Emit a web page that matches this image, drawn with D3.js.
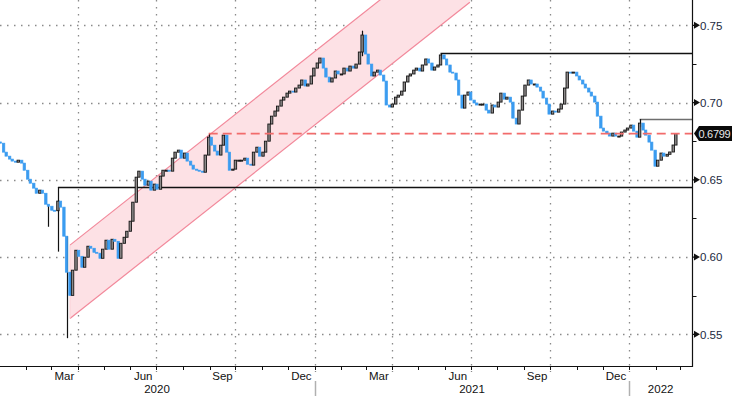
<!DOCTYPE html>
<html>
<head>
<meta charset="utf-8">
<script src="https://cdn.jsdelivr.net/npm/d3@7"></script>
<style>
  html, body { margin: 0; padding: 0; background: #fff; }
  svg { display: block; font-family: "Liberation Sans", Arial, sans-serif; }
</style>
</head>
<body>
<svg id="chart" width="732" height="396"></svg>
<script>
// closes, one per Monday / Thursday from 2019-12-30 to 2022-02-24
const closes = [
  0.6745,
  0.6737,0.6679,0.6653,0.6634,0.6621,0.6614,0.6627,0.6608,0.6562,0.6504,
  0.6478,0.6446,0.6413,0.6433,0.6413,0.6342,0.6329,0.6303,0.6300,0.6362,
  0.6323,0.6135,0.5902,0.5752,0.5915,0.6044,0.6005,0.5934,0.5999,0.6070,
  0.6057,0.6031,0.6025,0.5992,0.6051,0.6109,0.6051,0.6115,0.6102,0.5992,
  0.6089,0.6128,0.6167,0.6232,0.6355,0.6517,0.6556,0.6504,0.6465,0.6491,
  0.6433,0.6472,0.6439,0.6524,0.6562,
  0.6562,0.6556,0.6640,0.6679,0.6692,0.6640,0.6673,0.6621,0.6595,0.6569,
  0.6562,0.6556,0.6549,0.6660,0.6776,0.6724,0.6686,0.6660,0.6724,0.6789,
  0.6679,0.6562,0.6569,0.6627,0.6627,0.6627,0.6640,0.6601,0.6595,0.6679,
  0.6711,0.6653,0.6679,0.6750,0.6861,0.6912,0.6945,0.6977,0.7016,0.7035,
  0.7061,0.7074,0.7068,0.7094,0.7113,0.7146,0.7107,0.7120,0.7172,0.7223,
  0.7256,0.7288,0.7223,0.7165,0.7133,0.7159,0.7204,0.7185,0.7185,0.7223,
  0.7204,0.7236,0.7223,0.7249,0.7327,0.7437,0.7314,0.7249,0.7172,0.7197,
  0.7210,0.7178,0.7139,0.6984,0.6971,0.6990,0.7035,0.7048,0.7074,0.7133,
  0.7172,0.7185,0.7210,0.7223,0.7204,0.7243,0.7282,0.7256,0.7210,0.7230,
  0.7243,0.7308,0.7282,0.7243,0.7197,0.7191,0.7146,0.7048,0.6964,0.7048,
  0.7068,0.7016,0.6997,0.6984,0.6990,0.6990,0.6951,0.6932,0.6984,0.6971,
  0.7003,0.7061,0.7022,0.7035,0.7003,0.6899,0.6861,0.6951,0.7042,0.7113,
  0.7146,0.7120,0.7120,0.7100,0.7074,0.7029,0.6990,0.6925,0.6945,0.6938,
  0.6958,0.6990,0.7094,0.7197,0.7191,0.7197,0.7172,0.7146,0.7120,0.7094,
  0.7068,0.7042,0.7003,0.6912,0.6835,0.6815,0.6802,0.6783,0.6802,0.6783,
  0.6783,0.6809,0.6822,0.6835,0.6854,0.6815,0.6776,0.6867,0.6822,0.6789,
  0.6744,0.6692,0.6588,0.6627,0.6673,0.6653,
  0.6665,0.6680,0.6725,0.6799
];

// long wicks that stand out
const wickDates = ["2020-02-27", "2020-03-09", "2020-03-19", "2020-08-31", "2021-02-25", "2021-05-27", "2022-01-13"];
const wickHighs = [0.6330, 0.6451, 0.6135, 0.6799, 0.7465, 0.7319, 0.6893];
const wickLows  = [0.6196, 0.6035, 0.5475, 0.6750, 0.7300, 0.7280, 0.6840];

// rising channel
const channelDates = ["2020-03-23", "2021-06-30"];
const channelUpper = [0.6077, 0.8124];
const channelLower = [0.5602, 0.7649];

// horizontal levels
const levelDates  = ["2020-03-09", "2021-05-27", "2022-01-13"];
const levelValues = [0.6451, 0.7319, 0.6893];
const lastPrice = 0.6799;
const lastPriceFrom = "2020-08-31";

const yTicks = [0.55, 0.60, 0.65, 0.70, 0.75];
const yMinor = [0.575, 0.625, 0.675, 0.725];
const monthLabels = ["Mar", "Jun", "Sep", "Dec"];
const years = ["2020", "2021", "2022"];

const W = 732, H = 396;
const plotR = 692, plotB = 366;
const svg = d3.select('#chart');

const x = d3.scaleUtc()
    .domain([new Date("2020-01-01"), new Date("2022-03-15")])
    .range([-0.7, 692.2]);
const y = d3.scaleLinear()
    .domain([0.55, 0.75])
    .range([334.3, 25.3]);

const dates = d3.merge([
    d3.utcMonday.range(new Date("2019-12-30"), new Date("2022-02-25")),
    d3.utcThursday.range(new Date("2019-12-30"), new Date("2022-02-25"))
]).sort(d3.ascending);

const n = Math.min(dates.length, closes.length);
const candles = [];
for (let i = 1; i < n; i++) {
  candles.push({ date: dates[i], open: closes[i - 1], close: closes[i] });
}

svg.append('defs').append('clipPath').attr('id', 'plot')
  .append('rect').attr('x', 0).attr('y', 0).attr('width', plotR).attr('height', plotB);

const gridG = svg.append('g');
// horizontal dotted grid
gridG.selectAll('line.hg').data(yTicks).enter().append('line')
    .attr('x1', 0).attr('x2', plotR)
    .attr('y1', d => Math.round(y(d)) + 0.5).attr('y2', d => Math.round(y(d)) + 0.5)
    .attr('stroke', '#8a8a8a').attr('stroke-width', 1.3)
    .attr('stroke-dasharray', '1.5,5.5');

// quarter gridlines (start of Apr, Jul, Oct, Jan)
const quarters = d3.utcMonth.every(3).range(new Date("2020-03-15"), new Date("2022-03-01"))
    .filter(d => [0, 3, 6, 9].includes(d.getUTCMonth()));
gridG.selectAll('line.vg').data(quarters).enter().append('line')
    .attr('x1', d => Math.round(x(d)) + 0.5).attr('x2', d => Math.round(x(d)) + 0.5)
    .attr('y1', 0).attr('y2', plotB + 6)
    .attr('stroke', '#8a8a8a').attr('stroke-width', 1.3)
    .attr('stroke-dasharray', '1.5,5.5');

const plotG = svg.append('g').attr('clip-path', 'url(#plot)');

// channel
const cx0 = x(new Date(channelDates[0])), cx1 = x(new Date(channelDates[1]));
const band = [[cx0, y(channelUpper[0])], [cx1, y(channelUpper[1])], [cx1, y(channelLower[1])], [cx0, y(channelLower[0])]];
plotG.append('path')
    .attr('d', d3.line()(band) + 'Z')
    .attr('fill', '#fde1e5').attr('stroke', 'none');
[channelUpper, channelLower].forEach(arr => {
  plotG.append('line')
    .attr('x1', cx0).attr('y1', y(arr[0]))
    .attr('x2', cx1).attr('y2', y(arr[1]))
    .attr('stroke', '#f2889a').attr('stroke-width', 1.2);
});
plotG.append('line')
    .attr('x1', cx0).attr('x2', cx0)
    .attr('y1', y(channelUpper[0])).attr('y2', y(channelLower[0]))
    .attr('stroke', '#fbd0d6').attr('stroke-width', 1);

// black / grey horizontal levels
const levelStyle = [
  { color: '#111', w: 1.3 },
  { color: '#111', w: 1.3 },
  { color: '#6e6e6e', w: 1.6 }
];
levelValues.forEach((v, i) => {
  const lx = x(new Date(levelDates[i]));
  const ly = Math.round(y(v)) + 0.5;
  plotG.append('line')
    .attr('x1', lx).attr('x2', plotR)
    .attr('y1', ly).attr('y2', ly)
    .attr('stroke', levelStyle[i].color).attr('stroke-width', levelStyle[i].w);
});

// wicks
wickDates.forEach((ds, i) => {
  const wx = Math.round(x(new Date(ds))) + 0.5;
  plotG.append('line')
    .attr('x1', wx).attr('x2', wx)
    .attr('y1', y(wickHighs[i])).attr('y2', y(wickLows[i]))
    .attr('stroke', '#111').attr('stroke-width', 1.2);
});

// candles
const cw = 2.4;
plotG.append('g').selectAll('rect').data(candles).enter().append('rect')
    .attr('x', d => x(d.date) - cw / 2)
    .attr('width', cw)
    .attr('y', d => y(Math.max(d.open, d.close)))
    .attr('height', d => Math.max(1, Math.abs(y(d.open) - y(d.close))))
    .attr('fill', d => d.close >= d.open ? '#8d8a8a' : '#3b9cf0')
    .attr('stroke', d => d.close >= d.open ? '#141414' : '#3b9cf0')
    .attr('stroke-width', d => d.close >= d.open ? 0.9 : 0.7);

// last price dashed line
const lpY = y(lastPrice);
plotG.append('line')
    .attr('x1', x(new Date(lastPriceFrom))).attr('x2', plotR)
    .attr('y1', lpY).attr('y2', lpY)
    .attr('stroke', '#f26b6b').attr('stroke-width', 1.8)
    .attr('stroke-dasharray', '9,5');

// axes frame
const axG = svg.append('g');
axG.append('line').attr('x1', plotR + 0.5).attr('x2', plotR + 0.5).attr('y1', 0).attr('y2', plotB + 1)
    .attr('stroke', '#111').attr('stroke-width', 1.2);
axG.append('line').attr('x1', 0).attr('x2', plotR + 1).attr('y1', plotB + 0.5).attr('y2', plotB + 0.5)
    .attr('stroke', '#111').attr('stroke-width', 1.2);

// right axis: arrow ticks and labels
yTicks.forEach(v => {
  const ty = y(v);
  axG.append('path')
    .attr('d', `M${plotR},${ty - 0.6}L${plotR + 2},${ty - 0.6}L${plotR + 2},${ty - 3.5}L${plotR + 8},${ty}L${plotR + 2},${ty + 3.5}L${plotR + 2},${ty + 0.6}L${plotR},${ty + 0.6}Z`)
    .attr('fill', '#111');
  axG.append('text')
    .attr('x', plotR + 8).attr('y', ty + 4.2)
    .attr('font-size', 11.5).attr('fill', '#1c2a3e')
    .text(v.toFixed(2));
});
yMinor.forEach(v => {
  axG.append('line')
    .attr('x1', plotR).attr('x2', plotR + 4.5)
    .attr('y1', Math.round(y(v)) + 0.5).attr('y2', Math.round(y(v)) + 0.5)
    .attr('stroke', '#111').attr('stroke-width', 1);
});

// last price tag
const tagG = svg.append('g');
tagG.append('path')
    .attr('d', `M${plotR + 2},${lpY}L${plotR + 7},${lpY - 7.5}L${W},${lpY - 7.5}L${W},${lpY + 7.5}L${plotR + 7},${lpY + 7.5}Z`)
    .attr('fill', '#0a0a0a');
tagG.append('text')
    .attr('x', plotR + 6.5).attr('y', lpY + 4)
    .attr('font-size', 11).attr('letter-spacing', -0.3).attr('fill', '#e8e8e8')
    .text(lastPrice.toFixed(4));

// bottom axis: month ticks, labels, years
const months = d3.utcMonth.range(new Date("2020-01-01"), new Date("2022-03-15"));
axG.selectAll('line.mt').data(months).enter().append('line')
    .attr('x1', d => Math.round(x(d)) + 0.5).attr('x2', d => Math.round(x(d)) + 0.5)
    .attr('y1', plotB).attr('y2', plotB + 4)
    .attr('stroke', '#111').attr('stroke-width', 1);

const labelMonths = months.filter(d => [2, 5, 8, 11].includes(d.getUTCMonth()) && d < new Date("2022-01-01"));
axG.selectAll('text.ml').data(labelMonths).enter().append('text')
    .attr('x', d => (x(d) + x(d3.utcMonth.offset(d, 1))) / 2)
    .attr('y', 379.5)
    .attr('text-anchor', 'middle')
    .attr('font-size', 11.5).attr('fill', '#111')
    .text(d => monthLabels[[2, 5, 8, 11].indexOf(d.getUTCMonth())]);

years.forEach((yr, i) => {
  const s = x(new Date(yr + "-01-01"));
  const e = i < years.length - 1 ? x(new Date(years[i + 1] + "-01-01")) : plotR;
  axG.append('text')
    .attr('x', (s + e) / 2).attr('y', 392.5)
    .attr('text-anchor', 'middle')
    .attr('font-size', 11.5).attr('fill', '#111')
    .text(yr);
  if (i > 0) {
    axG.append('line')
      .attr('x1', Math.round(s) + 0.5).attr('x2', Math.round(s) + 0.5)
      .attr('y1', 381).attr('y2', H)
      .attr('stroke', '#b0b0b0').attr('stroke-width', 1.5);
  }
});
</script>
</body>
</html>
